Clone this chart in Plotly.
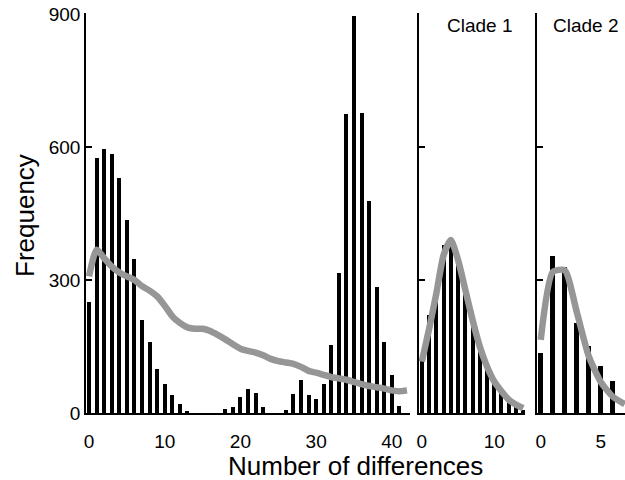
import plotly.graph_objects as go

# ---- data ----
main_x = list(range(0, 43))
main_bars = [251, 575, 595, 583, 529, 436, 347, 210, 161, 99, 65, 40, 20, 5, 0, 0, 0, 0,
             9, 14, 36, 55, 44, 13, 0, 0, 7, 43, 74, 41, 32, 66, 154, 315, 674, 895, 676,
             479, 285, 161, 86, 15, 0]
main_line = [308, 368, 349, 330, 317, 308, 300, 286, 276, 263, 242, 218, 203, 193, 190, 190,
             185, 176, 166, 155, 145, 140, 136, 130, 122, 117, 114, 111, 104, 95, 91, 86, 81,
             78, 75, 70, 65, 61, 58, 55, 51, 49, 51]

c1_x = list(range(0, 15))
c1_bars = [120, 221, 264, 379, 394, 345, 285, 215, 158, 110, 72, 48, 30, 15, 7]
c1_line = [116, 190, 270, 356, 390, 345, 278, 210, 150, 105, 71, 49, 30, 19, 11]

c2_bar_x = list(range(0, 7))
c2_bars = [136, 355, 330, 204, 150, 107, 73]
c2_line_x = list(range(0, 8))
c2_line = [165, 318, 322, 228, 128, 70, 37, 20]

y_ticks = [0, 300, 600, 900]
main_xticks = [0, 10, 20, 30, 40]
c1_xticks = [0, 10]
c2_xticks = [0, 5]
titles = ["Clade 1", "Clade 2"]

FONT = "Liberation Sans, Arial, sans-serif"
GRAY = "rgb(150,150,150)"

fig = go.Figure()

def add_panel(xs, bars, lx, ly, bw, xa, ya):
    fig.add_trace(go.Bar(x=xs, y=bars, width=bw, marker=dict(color="black", line=dict(width=0)),
                         xaxis=xa, yaxis=ya, showlegend=False))
    fig.add_trace(go.Scatter(x=lx, y=ly, mode="lines",
                             line=dict(color=GRAY, width=6.5, shape="spline", smoothing=0.6),
                             xaxis=xa, yaxis=ya, showlegend=False))

add_panel(main_x, main_bars, main_x, main_line, 0.53, "x", "y")
add_panel(c1_x, c1_bars, c1_x, c1_line, 0.55, "x2", "y2")
add_panel(c2_bar_x, c2_bars, c2_line_x, c2_line, 0.38, "x3", "y3")

W, H = 625, 480
L, R, T, B = 86, 0, 13, 67
pw = W - L - R
ph = H - T - B

def dom(a, b):
    return [(a - L) / pw, min(1.0, (b - L) / pw)]

xcommon = dict(showline=True, linecolor="black", linewidth=1.5, ticks="", showgrid=False,
               zeroline=False, tickfont=dict(family=FONT, size=19, color="black"),
               ticklabelstandoff=10)
ycommon = dict(range=[0, 902], showline=True, linecolor="black", linewidth=1.5, ticks="inside",
               ticklen=6, tickwidth=1.5, tickcolor="black", tickvals=y_ticks, showgrid=False,
               zeroline=False, ticklabeloverflow="allow",
               tickfont=dict(family=FONT, size=19, color="black"))

fig.update_layout(
    width=W, height=H, margin=dict(l=L, r=R, t=T, b=B, autoexpand=False),
    paper_bgcolor="white", plot_bgcolor="white",
    xaxis=dict(xcommon, domain=dom(86, 410), range=[-0.4, 42.4], tickvals=main_xticks, anchor="y"),
    xaxis2=dict(xcommon, domain=dom(419, 525), range=[-0.4, 14.25], tickvals=c1_xticks, anchor="y2"),
    xaxis3=dict(xcommon, domain=dom(537, 625), range=[-0.31, 7.02], tickvals=c2_xticks, anchor="y3"),
    yaxis=dict(ycommon, anchor="x"),
    yaxis2=dict(ycommon, anchor="x2", showticklabels=False),
    yaxis3=dict(ycommon, anchor="x3", showticklabels=False),
    bargap=0,
)

fig.add_annotation(text="Number of differences", xref="paper", yref="paper", x=0.5, y=(413 - 466) / ph,
                   showarrow=False, xanchor="center", yanchor="middle",
                   font=dict(family=FONT, size=26, color="black"))
fig.add_annotation(text="Frequency", xref="paper", yref="paper", x=(25 - L) / pw, y=(413 - 216) / ph,
                   showarrow=False, textangle=-90, xanchor="center", yanchor="middle",
                   font=dict(family=FONT, size=26, color="black"))
for t, px in zip(titles, [480, 586]):
    fig.add_annotation(text=t, xref="paper", yref="paper", x=(px - L) / pw, y=(413 - 26) / ph,
                       showarrow=False, xanchor="center", yanchor="middle",
                       font=dict(family=FONT, size=19, color="black"))

fig.write_html("out.html", config={"displayModeBar": False},
               post_script="document.body.style.margin='0px';")
